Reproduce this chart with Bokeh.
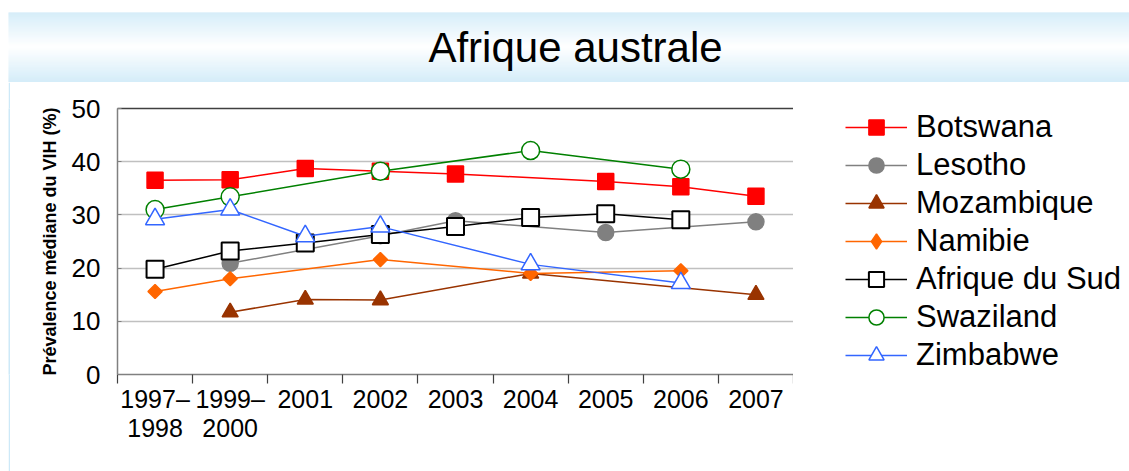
from bokeh.plotting import figure
from bokeh.models import FixedTicker, Legend, LegendItem, LinearAxis, Label, Range1d, Spacer
from bokeh.layouts import column, row
from bokeh.embed import file_html
from bokeh.resources import INLINE

# ---------------- data ----------------
categories = ["1997–\n1998", "1999–\n2000", "2001", "2002", "2003", "2004", "2005", "2006", "2007"]
botswana = [36.5, 36.6, 38.7, 38.2, 37.7, None, 36.3, 35.3, 33.5]
lesotho = [None, 20.9, None, 26.1, 28.9, None, 26.7, None, 28.7]
mozambique = [None, 11.7, 14.1, 14.0, None, 19.0, None, None, 15.0]
namibie = [15.6, 18.0, None, 21.6, None, 19.0, None, 19.5, None]
afrique_du_sud = [19.8, 23.2, 24.7, 26.3, 27.8, 29.5, 30.2, 29.1, None]
swaziland = [31.0, 33.4, None, 38.2, None, 42.1, None, 38.6, None]
zimbabwe = [29.2, 31.0, 26.0, 27.8, None, 20.7, None, 17.2, None]
y_ticks = [0, 10, 20, 30, 40, 50]
title_text = "Afrique australe"
y_label = "Prévalence médiane du VIH (%)"

FONT = "Liberation Sans"
n = len(categories)
centers = [i + 0.5 for i in range(n)]
TOTAL_W = 1129

# ---------------- title band ----------------
top = figure(width=TOTAL_W, height=82, x_range=Range1d(0, TOTAL_W), y_range=Range1d(0, 82),
             output_backend="svg", toolbar_location=None, min_border=0,
             x_axis_location=None, y_axis_location=None, outline_line_color=None)
top.grid.visible = False
band_h = 70
blue = (197, 230, 247)
bottoms, tops, colors = [], [], []
for k in range(band_h):
    mid = k + 0.5
    t = min(1.0, abs(mid - 36) / 36.0)
    c = tuple(int(round(255 + (b - 255) * t)) for b in blue)
    bottoms.append(k)
    tops.append(k + 1.02)
    colors.append("#%02x%02x%02x" % c)
top.quad(left=8, right=TOTAL_W, bottom=bottoms, top=tops, fill_color=colors, line_color=None)
top.add_layout(Label(x=575, y=35, x_units="screen", y_units="screen", text=title_text,
                     text_align="center", text_baseline="middle", text_font=FONT,
                     text_font_size="42px", text_color="#000000"))

MAIN_H = 389

# ---------------- left border strip ----------------
strip = figure(width=2, height=MAIN_H, output_backend="svg", toolbar_location=None, min_border=0,
               x_axis_location=None, y_axis_location=None, outline_line_color=None,
               background_fill_color="#cde9f8", border_fill_color="#cde9f8")
strip.grid.visible = False

# ---------------- main chart ----------------
P_W = 107 + 676
p = figure(width=P_W, height=MAIN_H, x_range=Range1d(0, n), y_range=Range1d(0, 50),
           output_backend="svg", toolbar_location=None,
           min_border_left=107, min_border_right=0,
           min_border_top=23, min_border_bottom=MAIN_H - 23 - 269,
           outline_line_color=None)

p.xgrid.visible = False
p.ygrid.ticker = FixedTicker(ticks=y_ticks)
p.ygrid.grid_line_color = "#c0c0c0"
p.ygrid.grid_line_width = 1.5

p.yaxis.ticker = FixedTicker(ticks=y_ticks)
p.yaxis.axis_line_color = "#808080"
p.yaxis.axis_line_width = 1.5
p.yaxis.major_tick_in = 4
p.yaxis.major_tick_out = 0
p.yaxis.major_tick_line_color = "#808080"
p.yaxis.minor_tick_line_color = None
p.yaxis.major_label_standoff = 17
p.yaxis.major_label_text_font = FONT
p.yaxis.major_label_text_font_size = "26px"
p.yaxis.major_label_text_color = "#000000"
p.yaxis.axis_label = y_label
p.yaxis.axis_label_text_font = FONT
p.yaxis.axis_label_text_font_size = "18px"
p.yaxis.axis_label_text_font_style = "bold"
p.yaxis.axis_label_text_color = "#000000"
p.yaxis.axis_label_standoff = 9

p.xaxis.ticker = FixedTicker(ticks=centers, minor_ticks=list(range(n + 1)))
p.xaxis.major_label_overrides = {c: lab for c, lab in zip(centers, categories)}
p.xaxis.axis_line_color = "#808080"
p.xaxis.axis_line_width = 1.5
p.xaxis.major_tick_line_color = None
p.xaxis.major_tick_in = 0
p.xaxis.major_tick_out = 0
p.xaxis.minor_tick_line_color = "#404040"
p.xaxis.minor_tick_in = 0
p.xaxis.minor_tick_out = 9
p.xaxis.minor_tick_line_width = 1.2
p.xaxis.major_label_standoff = 1
p.xaxis.major_label_text_font = FONT
p.xaxis.major_label_text_font_size = "25px"
p.xaxis.major_label_text_line_height = 1.05
p.xaxis.major_label_text_color = "#000000"

top_axis = LinearAxis(ticker=FixedTicker(ticks=[]), major_label_text_font_size="0px",
                      axis_line_color="#404040", axis_line_width=1.5,
                      major_tick_line_color=None, minor_tick_line_color=None)
p.add_layout(top_axis, "above")

series = [
    ("Botswana", botswana, dict(color="#ff0000", marker="square", leg="square", size=16, fill="#ff0000", lw=1.5, angle=0)),
    ("Lesotho", lesotho, dict(color="#808080", marker="circle", leg="circle", size=16, fill="#808080", lw=1.5, angle=0)),
    ("Mozambique", mozambique, dict(color="#993300", marker="triangle", leg="triangle", size=16, fill="#993300", lw=1.5, angle=0)),
    ("Namibie", namibie, dict(color="#ff6600", marker="square", leg="diamond", size=10, fill="#ff6600", lw=1.5, angle=0.7854)),
    ("Afrique du Sud", afrique_du_sud, dict(color="#000000", marker="square", leg="square", size=17, fill="#ffffff", lw=2, angle=0)),
    ("Swaziland", swaziland, dict(color="#008000", marker="circle", leg="circle", size=18, fill="#ffffff", lw=1.5, angle=0)),
    ("Zimbabwe", zimbabwe, dict(color="#3366ff", marker="triangle", leg="triangle", size=19, fill="#ffffff", lw=1.5, angle=0)),
]

# ---------------- legend panel (separate figure, data kept out of its view) ----------------
LEG_W = TOTAL_W - 10 - P_W
lf = figure(width=LEG_W, height=MAIN_H, x_range=Range1d(-20, -19), y_range=Range1d(-20, -19),
            output_backend="svg", toolbar_location=None,
            min_border_left=52, min_border_top=26, min_border_right=0, min_border_bottom=0,
            x_axis_location=None, y_axis_location=None, outline_line_color=None)
lf.grid.visible = False

items = []
for name, vals, st in series:
    xs = [c for c, v in zip(centers, vals) if v is not None]
    ys = [v for v in vals if v is not None]
    p.line(xs, ys, line_color=st["color"], line_width=1.5)
    p.scatter(xs, ys, marker=st["marker"], size=st["size"], angle=st["angle"],
              fill_color=st["fill"], line_color=st["color"], line_width=st["lw"])
    lr = lf.line(xs, ys, line_color=st["color"], line_width=1.5)
    sr = lf.scatter(xs, ys, marker=st["leg"], size=st["size"],
                    fill_color=st["fill"], line_color=st["color"], line_width=st["lw"])
    items.append(LegendItem(label=name, renderers=[lr, sr]))

legend = Legend(items=items, location="top_left", orientation="vertical", padding=0, margin=0,
                spacing=0, glyph_width=62, glyph_height=38, label_height=38, label_standoff=9,
                label_text_font=FONT, label_text_font_size="31px", label_text_color="#000000",
                label_text_baseline="middle",
                border_line_color=None, background_fill_alpha=0)
lf.add_layout(legend)

layout = column(top, row(Spacer(width=8, height=MAIN_H), strip, p, lf))
open("out.html", "w").write(file_html(layout, INLINE))
